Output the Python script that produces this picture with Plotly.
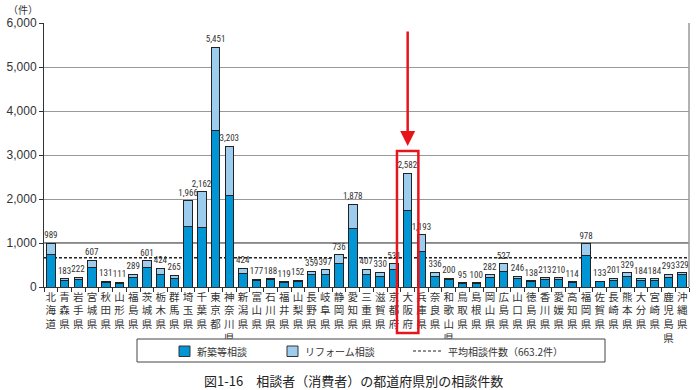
import plotly.graph_objects as go

prefs = ["北海道","青森県","岩手県","宮城県","秋田県","山形県","福島県","茨城県","栃木県","群馬県",
         "埼玉県","千葉県","東京都","神奈川県","新潟県","富山県","石川県","福井県","山梨県","長野県",
         "岐阜県","静岡県","愛知県","三重県","滋賀県","京都府","大阪府","兵庫県","奈良県","和歌山県",
         "鳥取県","島根県","岡山県","広島県","山口県","徳島県","香川県","愛媛県","高知県","福岡県",
         "佐賀県","長崎県","熊本県","大分県","宮崎県","鹿児島県","沖縄県"]
totals = [989,183,222,607,131,111,289,601,424,265,
          1966,2162,5451,3203,424,177,188,119,152,359,
          397,736,1878,407,330,531,2582,1193,336,200,
          95,100,282,527,246,138,213,210,114,978,
          133,201,329,184,184,293,329]
shinchiku = [735,150,175,447,100,91,220,450,290,200,
             1370,1350,3560,2080,304,150,165,107,136,288,
             280,545,1330,280,243,400,1735,817,236,180,
             80,88,227,350,182,120,160,160,92,712,
             115,152,243,150,150,220,288]
reform = [t - s for t, s in zip(totals, shinchiku)]
average = 663.2
series_names = ["新築等相談", "リフォーム相談", "平均相談件数（663.2件）"]

tick_text = ["<br>".join(list(p)) for p in prefs]

DARK = "#0096D6"
LIGHT = "#9DCDEE"
JP = "Noto Sans CJK JP"
RED = "#E8141B"
NARROW = "Roboto Condensed, DejaVu Sans Condensed, Liberation Sans Narrow, Arial Narrow, sans-serif"

# plot area in pixels: x 44..689, y 23..287
L, R, T, B = 44, 689, 23, 287
def px(x):
    return (x - L) / (R - L)
def py(y):
    return (B - y) / (B - T)

fig = go.Figure()
fig.add_trace(go.Bar(x=prefs, y=shinchiku, name=series_names[0],
                     marker=dict(color=DARK, line=dict(color="#222", width=1)), width=0.62))
fig.add_trace(go.Bar(x=prefs, y=reform, name=series_names[1],
                     marker=dict(color=LIGHT, line=dict(color="#222", width=1)), width=0.62,
                     text=[f"{t:,}" for t in totals], textposition="outside", constraintext="none",
                     textfont=dict(family=NARROW, size=9, color="#333"),
                     cliponaxis=False))

fig.add_shape(type="line", xref="paper", yref="y", x0=0, x1=1, y0=average, y1=average,
              line=dict(color="#222", width=1.5, dash="3px,2px"), layer="between")
fig.add_shape(type="line", xref="paper", yref="y", x0=0, x1=1, y0=1000, y1=1000,
              line=dict(color="#888", width=2), layer="between")
# right border
fig.add_shape(type="line", xref="paper", yref="paper", x0=1, x1=1, y0=0, y1=1, line=dict(color="#999", width=1.5))

# red highlight
osaka_i = prefs.index("大阪府")
n = len(prefs)
fig.add_shape(type="rect", xref="paper", yref="paper",
              x0=(osaka_i + 0.5 - 0.78) / n, x1=(osaka_i + 0.5 + 0.78) / n,
              y0=py(333), y1=py(151), line=dict(color=RED, width=2.5))
fig.add_annotation(x="大阪府", xref="x", y=py(146), yref="paper", ax=0, ay=-116,
                   showarrow=True, arrowhead=2, arrowsize=1.2, arrowwidth=2.5, arrowcolor=RED, text="")

# manual legend
fig.add_shape(type="rect", xref="paper", yref="paper", x0=px(137), x1=px(605), y0=py(362), y1=py(339),
              line=dict(color="#444", width=1), fillcolor="white")
fig.add_shape(type="rect", xref="paper", yref="paper", x0=px(179), x1=px(190), y0=py(356.5), y1=py(346),
              line=dict(color="#333", width=1), fillcolor=DARK)
fig.add_shape(type="rect", xref="paper", yref="paper", x0=px(287), x1=px(298), y0=py(356.5), y1=py(346),
              line=dict(color="#333", width=1), fillcolor=LIGHT)
fig.add_shape(type="line", xref="paper", yref="paper", x0=px(413), x1=px(442), y0=py(351), y1=py(351),
              line=dict(color="#222", width=1.2, dash="3px,2px"))
legend_text_x = [195, 303, 446]
for name, lx in zip(series_names, legend_text_x):
    fig.add_annotation(text=name, xref="paper", yref="paper", x=px(lx), y=py(351), xanchor="left",
                       yanchor="middle", showarrow=False, font=dict(family=JP, size=10, color="#333"))

fig.add_annotation(text="（件）", xref="paper", yref="paper", x=px(6), y=py(9), showarrow=False,
                   font=dict(family=JP, size=10, color="#333"), xanchor="left", yanchor="middle")
fig.add_annotation(text="図1-16　相談者（消費者）の都道府県別の相談件数", xref="paper", yref="paper",
                   x=px(353), y=py(380), showarrow=False, font=dict(family=JP, size=13, color="#222"),
                   xanchor="center", yanchor="middle")

fig.update_layout(
    width=700, height=390, barmode="stack", showlegend=False,
    margin=dict(l=L, r=700 - R, t=T, b=390 - B, autoexpand=False),
    paper_bgcolor="white", plot_bgcolor="white",
    font=dict(family=JP, color="#333"),
    xaxis=dict(tickmode="array", tickvals=prefs, ticktext=tick_text, tickangle=0,
               tickfont=dict(family=JP, size=10.5, color="#333"), showline=True, linecolor="#333",
               ticks="outside", tickson="boundaries", ticklen=4, tickcolor="#333",
               range=[-0.5, n - 0.5], automargin=False),
    yaxis=dict(range=[0, 6000], tickvals=[0, 1000, 2000, 3000, 4000, 5000, 6000], tickformat=",",
               showgrid=True, gridcolor="#999", gridwidth=1, showline=True, linecolor="#333",
               ticks="outside", ticklen=4, tickcolor="#333", zeroline=False,
               tickfont=dict(family="Liberation Sans, Arial", size=12, color="#333"), automargin=False),
)

fig.write_html("out.html", config={"displayModeBar": False},
               post_script="document.body.style.margin='0';document.body.style.overflow='hidden';")
